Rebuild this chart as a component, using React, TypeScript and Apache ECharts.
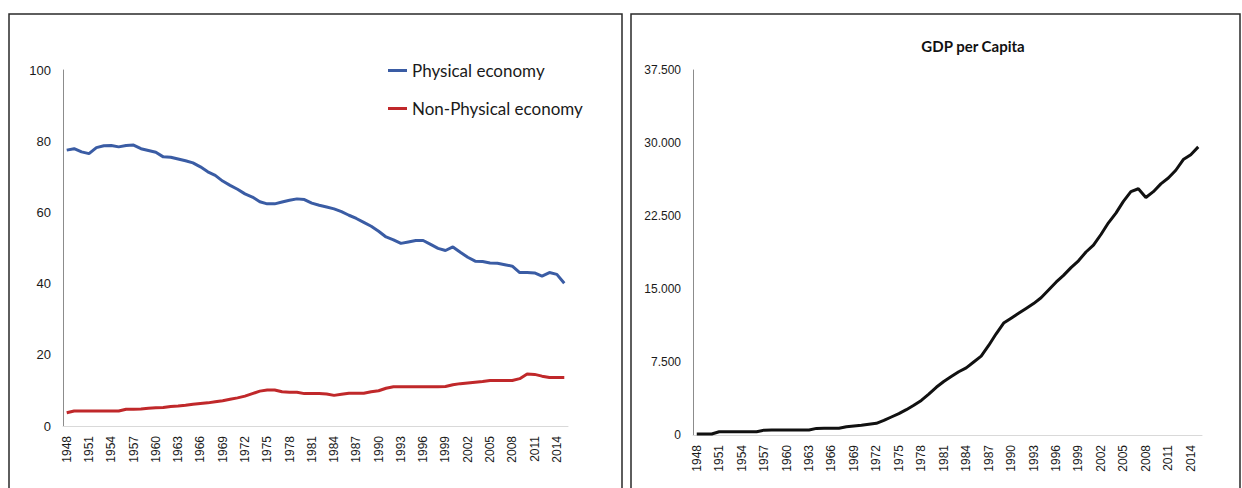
import React, { useEffect, useRef } from "react";
import * as echarts from "echarts";

// Years 1948–2015
const years: string[] = [];
for (let y = 1948; y <= 2015; y++) years.push(String(y));

// Share of the economy (%)
const physicalEconomy = [
  77.5, 77.9, 77.0, 76.5, 78.2, 78.7, 78.8, 78.4, 78.8, 78.9,
  77.9, 77.4, 76.9, 75.6, 75.5, 75.0, 74.5, 73.9, 72.8, 71.4,
  70.4, 68.8, 67.6, 66.5, 65.2, 64.3, 63.0, 62.4, 62.4, 62.9,
  63.4, 63.8, 63.6, 62.6, 62.0, 61.5, 61.0, 60.2, 59.2, 58.3,
  57.2, 56.1, 54.7, 53.1, 52.3, 51.3, 51.7, 52.1, 52.1, 51.0,
  49.9, 49.3, 50.3, 48.8, 47.4, 46.3, 46.2, 45.8, 45.7, 45.3,
  44.9, 43.1, 43.1, 43.0, 42.1, 43.1, 42.6, 40.1,
];

const nonPhysicalEconomy = [
  3.7, 4.2, 4.2, 4.2, 4.2, 4.2, 4.2, 4.2, 4.7, 4.7,
  4.8, 5.0, 5.1, 5.2, 5.5, 5.6, 5.8, 6.1, 6.3, 6.5,
  6.8, 7.1, 7.5, 7.9, 8.4, 9.1, 9.8, 10.1, 10.1, 9.6,
  9.5, 9.5, 9.1, 9.1, 9.1, 9.0, 8.6, 8.9, 9.2, 9.2,
  9.2, 9.6, 9.9, 10.6, 11.0, 11.0, 11.0, 11.0, 11.0, 11.0,
  11.0, 11.1, 11.6, 11.9, 12.1, 12.3, 12.5, 12.8, 12.8, 12.8,
  12.8, 13.3, 14.6, 14.5, 14.0, 13.6, 13.6, 13.6,
];

// GDP per capita
const gdpPerCapita = [
  100, 100, 100, 330, 340, 340, 340, 340, 340, 500,
  510, 510, 510, 510, 510, 520, 680, 690, 690, 700,
  850, 930, 1000, 1100, 1200, 1500, 1850, 2200, 2600, 3050,
  3550, 4200, 4900, 5500, 6000, 6500, 6900, 7500, 8100, 9200,
  10400, 11500, 12000, 12500, 13000, 13500, 14100, 14900, 15700, 16400,
  17200, 17900, 18800, 19500, 20600, 21800, 22800, 24000, 25000, 25300,
  24400, 25000, 25800, 26400, 27200, 28300, 28800, 29600,
];

const fmtDots = (v: number) =>
  v === 0 ? "0" : String(Math.round(v)).replace(/\B(?=(\d{3})+(?!\d))/g, ".");

export default function App() {
  const ref = useRef<HTMLDivElement>(null);

  useEffect(() => {
    if (!ref.current) return;
    const chart = echarts.init(ref.current, undefined, { renderer: "svg" });

    const axisFont = { fontFamily: "Liberation Sans", color: "#1a1a1a" };

    const xAxisCommon = (gridIndex: number) => ({
      type: "category" as const,
      gridIndex,
      data: years,
      boundaryGap: true,
      axisLine: { lineStyle: { color: "#d9d9d9", width: 1 } },
      axisTick: { show: false },
      axisLabel: {
        ...axisFont,
        fontSize: 12,
        rotate: 90,
        interval: 2,
        margin: 10,
      },
    });

    chart.setOption({
      animation: false,
      backgroundColor: "#ffffff",
      graphic: [
        {
          type: "rect",
          shape: { x: 9, y: 14, width: 613, height: 500 },
          style: { fill: "none", stroke: "#2a2a2a", lineWidth: 1.5 },
          silent: true,
        },
        {
          type: "rect",
          shape: { x: 631, y: 14, width: 609, height: 500 },
          style: { fill: "none", stroke: "#2a2a2a", lineWidth: 1.5 },
          silent: true,
        },
      ],
      title: {
        text: "GDP per Capita",
        left: 968,
        top: 33,
        textAlign: "center",
        textStyle: {
          fontFamily: "Lato",
          fontWeight: "bold",
          fontSize: 15,
          color: "#111",
        },
      },
      legend: {
        data: ["Physical economy", "Non-Physical economy"],
        orient: "vertical",
        left: 383,
        top: 57,
        itemGap: 21,
        itemWidth: 19,
        itemHeight: 3,
        icon: "rect",
        textStyle: {
          fontFamily: "Lato",
          fontSize: 17,
          color: "#1a1a1a",
        },
      },
      grid: [
        { left: 63, right: 674, top: 70, bottom: 62 },
        { left: 693, right: 40, top: 70, bottom: 53 },
      ],
      xAxis: [xAxisCommon(0), xAxisCommon(1)],
      yAxis: [
        {
          type: "value",
          gridIndex: 0,
          min: 0,
          max: 100,
          interval: 20,
          axisLine: { show: true, lineStyle: { color: "#8c8c8c", width: 1 } },
          axisTick: { show: false },
          splitLine: { show: false },
          axisLabel: { ...axisFont, fontSize: 13, margin: 12 },
        },
        {
          type: "value",
          gridIndex: 1,
          min: 0,
          max: 37500,
          interval: 7500,
          axisLine: { show: true, lineStyle: { color: "#8c8c8c", width: 1 } },
          axisTick: { show: false },
          splitLine: { show: false },
          axisLabel: {
            ...axisFont,
            fontSize: 12,
            margin: 12,
            formatter: (v: number) => fmtDots(v),
          },
        },
      ],
      series: [
        {
          name: "Physical economy",
          type: "line",
          xAxisIndex: 0,
          yAxisIndex: 0,
          data: physicalEconomy,
          showSymbol: false,
          symbol: "none",
          color: "#3a5ca4",
          lineStyle: { width: 3, color: "#3a5ca4" },
        },
        {
          name: "Non-Physical economy",
          type: "line",
          xAxisIndex: 0,
          yAxisIndex: 0,
          data: nonPhysicalEconomy,
          showSymbol: false,
          symbol: "none",
          color: "#c0282a",
          lineStyle: { width: 3, color: "#c0282a" },
        },
        {
          name: "GDP per Capita",
          type: "line",
          xAxisIndex: 1,
          yAxisIndex: 1,
          data: gdpPerCapita,
          showSymbol: false,
          symbol: "none",
          color: "#111111",
          lineStyle: { width: 3, color: "#111111" },
        },
      ],
    });

    return () => chart.dispose();
  }, []);

  return (
    <div
      ref={ref}
      style={{ position: "fixed", left: 0, top: 0, width: 1242, height: 488 }}
    />
  );
}
